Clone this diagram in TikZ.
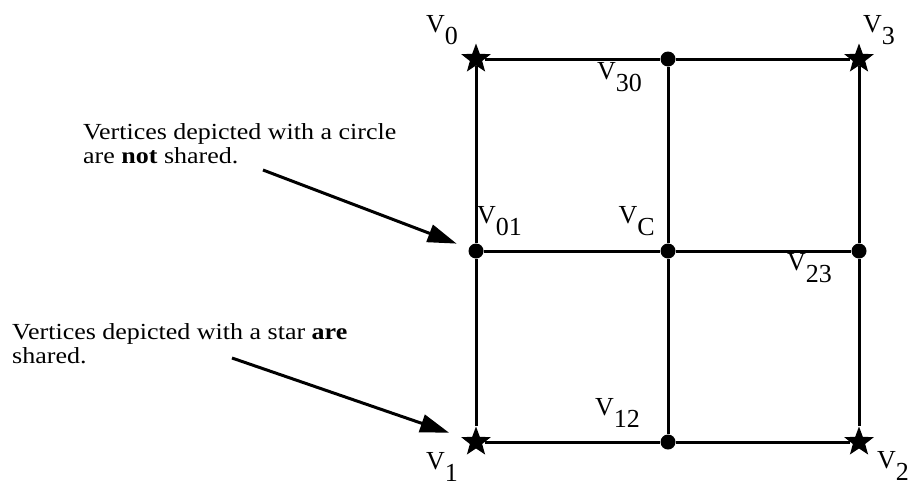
\documentclass[tikz,border=0pt]{standalone}
\usepackage{fontspec}
\setmainfont{Liberation Serif}
\newfontfamily\notefont[FakeStretch=1.13]{Liberation Serif}
\usetikzlibrary{arrows.meta,positioning,shapes.geometric}
\newcommand{\vname}[1]{V\raisebox{-12pt}{#1}}

\begin{document}
\begin{tikzpicture}[
  x=1pt, y=-1pt,
  shared/.style  = {star, star points=5, star point ratio=2.4,
                    fill=black, inner sep=0pt, minimum size=31pt},
  single/.style  = {circle, fill=black, inner sep=0pt, minimum size=15pt},
  edge/.style    = {line width=3pt, black},
  pointer/.style = {-{Triangle[length=29pt, width=18pt]},
                    line width=3pt, black},
  vlabel/.style  = {font=\fontsize{26}{26}\selectfont, inner sep=0pt},
  note/.style    = {font=\notefont\fontsize{23}{24}\selectfont,
                    align=left, inner sep=0pt, anchor=north west}
]
\useasboundingbox (0,0) rectangle (915,485);

%% ─── Grid vertices (star = shared, circle = not shared) ─────────
\node[shared] (v0)  at (476,59)  {};
\node[single] (v30) at (668,59)  {};
\node[shared] (v3)  at (859,59)  {};
\node[single] (v01) at (476,251) {};
\node[single] (vc)  at (668,251) {};
\node[single] (v23) at (859,251) {};
\node[shared] (v1)  at (476,442) {};
\node[single] (v12) at (668,442) {};
\node[shared] (v2)  at (859,442) {};

%% ─── Grid edges ─────────────────────────────────────────────────
\draw[edge] (v0)  -- (v30) -- (v3);
\draw[edge] (v01) -- (vc)  -- (v23);
\draw[edge] (v1)  -- (v12) -- (v2);
\draw[edge] (v0)  -- (v01) -- (v1);
\draw[edge] (v30) -- (vc)  -- (v12);
\draw[edge] (v3)  -- (v23) -- (v2);

%% ─── Vertex labels ──────────────────────────────────────────────
\node[vlabel, above left=14pt and 18pt of v0.center]  {\vname{0}};
\node[vlabel, below left=3pt and 26pt of v30.center]  {\vname{30}};
\node[vlabel, above right=14pt and 4pt of v3.center]  {\vname{3}};
\node[vlabel, above right=15pt and 1pt of v01.center] {\vname{01}};
\node[vlabel, above left=15pt and 13pt of vc.center]  {\vname{C}};
\node[vlabel, below left=2pt and 27pt of v23.center]  {\vname{23}};
\node[vlabel, above left=14pt and 28pt of v12.center] {\vname{12}};
\node[vlabel, below left=10pt and 18pt of v1.center]  {\vname{1}};
\node[vlabel, below right=9pt and 18pt of v2.center]  {\vname{2}};

%% ─── Notes with pointers ────────────────────────────────────────
\node[note] (circnote) at (83,123)
  {Vertices depicted with a circle\\are \textbf{not} shared.};
\node[note] (starnote) at (12,323)
  {Vertices depicted with a star \textbf{are}\\shared.};

\coordinate (circtail) at (263,170);
\coordinate (startail) at (232,358);
\draw[pointer, shorten >=13pt] (circtail) -- (v01);
\draw[pointer, shorten >=13pt] (startail) -- (v1);

\end{tikzpicture}
\end{document}
